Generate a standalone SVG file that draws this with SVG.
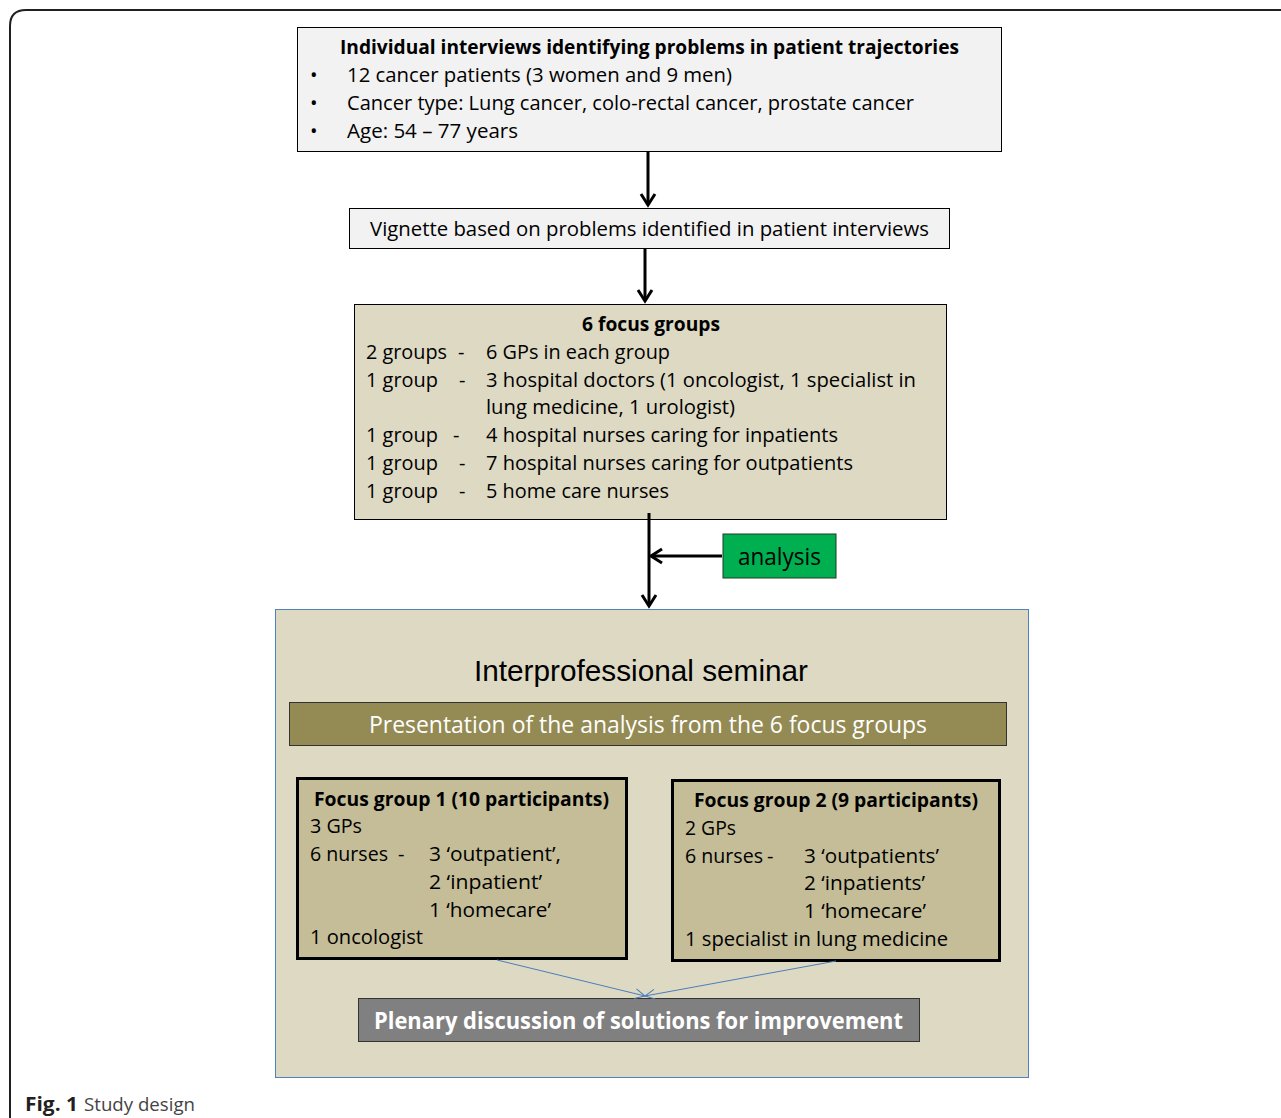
<svg xmlns="http://www.w3.org/2000/svg" width="1281" height="1118" viewBox="0 0 1281 1118">
<defs>
<style>
.t{font-family:"Open Sans","DejaVu Sans",sans-serif;font-size:20px;fill:#000}
.b{font-weight:bold}
.w{fill:#fff}
.box{stroke:#000;stroke-width:1}
.fg{fill:#c4bd97;stroke:#000;stroke-width:3}
.arr{stroke:#000;stroke-width:3;fill:none}
.blu{stroke:#4a7ebb;stroke-width:1;fill:none}
</style>
<marker id="ah" markerUnits="userSpaceOnUse" markerWidth="18" markerHeight="18" viewBox="0 0 18 18" refX="15" refY="9" orient="auto">
<path d="M4,2 L15,9 L4,16" fill="none" stroke="#000" stroke-width="3"/>
</marker>
<marker id="bh" markerUnits="userSpaceOnUse" markerWidth="12" markerHeight="12" viewBox="0 0 12 12" refX="11" refY="6" orient="auto">
<path d="M1,1 L11,6 L1,11" fill="none" stroke="#4a7ebb" stroke-width="1"/>
</marker>
</defs>
<rect width="1281" height="1118" fill="#fff"/>
<path d="M10,1118 L10,26 Q10,10 26,10 L1281,10" fill="none" stroke="#231f20" stroke-width="2"/>

<g id="interviews">
<rect class="box" x="297.5" y="27.5" width="704" height="124" fill="#f2f2f2"/>
<text class="t b" x="340" y="54" textLength="619" lengthAdjust="spacingAndGlyphs">Individual interviews identifying problems in patient trajectories</text>
<text class="t" x="310" y="82">•</text>
<text class="t" x="347" y="82" textLength="385" lengthAdjust="spacingAndGlyphs">12 cancer patients (3 women and 9 men)</text>
<text class="t" x="310" y="110">•</text>
<text class="t" x="347" y="110" textLength="567" lengthAdjust="spacingAndGlyphs">Cancer type: Lung cancer, colo-rectal cancer, prostate cancer</text>
<text class="t" x="310" y="138">•</text>
<text class="t" x="347" y="138" textLength="171" lengthAdjust="spacingAndGlyphs">Age: 54 – 77 years</text>
</g>

<g id="vignette">
<rect class="box" x="349.5" y="208.5" width="600" height="40" fill="#f2f2f2"/>
<text class="t" x="370" y="236" textLength="559" lengthAdjust="spacingAndGlyphs">Vignette based on problems identified in patient interviews</text>
</g>

<g id="focusgroups">
<rect class="box" x="354.5" y="304.5" width="592" height="215" fill="#ddd9c3"/>
<text class="t b" x="582" y="331" textLength="138" lengthAdjust="spacingAndGlyphs">6 focus groups</text>
<text class="t" x="366" y="359" textLength="81" lengthAdjust="spacingAndGlyphs">2 groups</text>
<text class="t" x="458" y="359">-</text>
<text class="t" x="486" y="359" textLength="184" lengthAdjust="spacingAndGlyphs">6 GPs in each group</text>
<text class="t" x="366" y="387" textLength="72" lengthAdjust="spacingAndGlyphs">1 group</text>
<text class="t" x="459" y="387">-</text>
<text class="t" x="486" y="387" textLength="430" lengthAdjust="spacingAndGlyphs">3 hospital doctors (1 oncologist, 1 specialist in</text>
<text class="t" x="486" y="414" textLength="249" lengthAdjust="spacingAndGlyphs">lung medicine, 1 urologist)</text>
<text class="t" x="366" y="442" textLength="72" lengthAdjust="spacingAndGlyphs">1 group</text>
<text class="t" x="453" y="442">-</text>
<text class="t" x="486" y="442" textLength="352" lengthAdjust="spacingAndGlyphs">4 hospital nurses caring for inpatients</text>
<text class="t" x="366" y="470" textLength="72" lengthAdjust="spacingAndGlyphs">1 group</text>
<text class="t" x="459" y="470">-</text>
<text class="t" x="486" y="470" textLength="367" lengthAdjust="spacingAndGlyphs">7 hospital nurses caring for outpatients</text>
<text class="t" x="366" y="498" textLength="72" lengthAdjust="spacingAndGlyphs">1 group</text>
<text class="t" x="459" y="498">-</text>
<text class="t" x="486" y="498" textLength="183" lengthAdjust="spacingAndGlyphs">5 home care nurses</text>
</g>

<g id="analysis">
<rect x="723" y="534" width="113" height="44" fill="#00b050" stroke="#1e3a22" stroke-width="1"/>
<text class="t" x="738" y="565" style="font-size:24px" textLength="83" lengthAdjust="spacingAndGlyphs">analysis</text>
</g>

<g id="seminar">
<rect x="275.5" y="609.5" width="753" height="468" fill="#ddd9c3" stroke="#4f81bd" stroke-width="1"/>
<text x="474" y="681" style="font-family:'Liberation Sans',Arial,sans-serif;font-size:29px" textLength="334" lengthAdjust="spacingAndGlyphs">Interprofessional seminar</text>
</g>

<g id="presentation">
<rect x="289.5" y="702.5" width="717" height="43" fill="#948a54" stroke="#333" stroke-width="1"/>
<text class="t w" x="369" y="733" style="font-size:24px" textLength="558" lengthAdjust="spacingAndGlyphs">Presentation of the analysis from the 6 focus groups</text>
</g>

<g id="focusgroup1">
<rect class="fg" x="297.5" y="778.5" width="329" height="180"/>
<text class="t b" x="314" y="806" textLength="295" lengthAdjust="spacingAndGlyphs">Focus group 1 (10 participants)</text>
<text class="t" x="310" y="833" textLength="52" lengthAdjust="spacingAndGlyphs">3 GPs</text>
<text class="t" x="310" y="861" textLength="78" lengthAdjust="spacingAndGlyphs">6 nurses</text>
<text class="t" x="398" y="861">-</text>
<text class="t" x="429" y="861" textLength="132" lengthAdjust="spacingAndGlyphs">3 ‘outpatient’,</text>
<text class="t" x="429" y="889" textLength="113" lengthAdjust="spacingAndGlyphs">2 ‘inpatient’</text>
<text class="t" x="429" y="917" textLength="122" lengthAdjust="spacingAndGlyphs">1 ‘homecare’</text>
<text class="t" x="310" y="944" textLength="113" lengthAdjust="spacingAndGlyphs">1 oncologist</text>
</g>

<g id="focusgroup2">
<rect class="fg" x="672.5" y="780.5" width="327" height="180"/>
<text class="t b" x="694" y="807" textLength="284" lengthAdjust="spacingAndGlyphs">Focus group 2 (9 participants)</text>
<text class="t" x="685" y="835" textLength="51" lengthAdjust="spacingAndGlyphs">2 GPs</text>
<text class="t" x="685" y="863" textLength="78" lengthAdjust="spacingAndGlyphs">6 nurses</text>
<text class="t" x="767" y="863">-</text>
<text class="t" x="804" y="863" textLength="135" lengthAdjust="spacingAndGlyphs">3 ‘outpatients’</text>
<text class="t" x="804" y="890" textLength="121" lengthAdjust="spacingAndGlyphs">2 ‘inpatients’</text>
<text class="t" x="804" y="918" textLength="122" lengthAdjust="spacingAndGlyphs">1 ‘homecare’</text>
<text class="t" x="685" y="946" textLength="263" lengthAdjust="spacingAndGlyphs">1 specialist in lung medicine</text>
</g>

<g id="plenary">
<rect x="358.5" y="998.5" width="561" height="43" fill="#808080" stroke="#333" stroke-width="1"/>
<text class="t b w" x="374" y="1029" style="font-size:24px" textLength="529" lengthAdjust="spacingAndGlyphs">Plenary discussion of solutions for improvement</text>
</g>

<g id="connectors">
<line class="arr" x1="648" y1="151" x2="648" y2="205" marker-end="url(#ah)"/>
<line class="arr" x1="645" y1="248" x2="645" y2="301" marker-end="url(#ah)"/>
<line class="arr" x1="649" y1="513" x2="649" y2="606" marker-end="url(#ah)"/>
<line class="arr" x1="722" y1="556" x2="651" y2="556" marker-end="url(#ah)"/>
<line class="blu" x1="497" y1="960" x2="645" y2="996" marker-end="url(#bh)"/>
<line class="blu" x1="836" y1="961" x2="645" y2="996" marker-end="url(#bh)"/>
</g>

<g id="caption">
<text x="25" y="1111" style="font-family:'Open Sans','DejaVu Sans',sans-serif;font-size:19px;fill:#231f20"><tspan font-weight="bold" textLength="53" lengthAdjust="spacingAndGlyphs">Fig. 1</tspan><tspan x="84" fill="#444" textLength="111" lengthAdjust="spacingAndGlyphs">Study design</tspan></text>
</g>
</svg>
